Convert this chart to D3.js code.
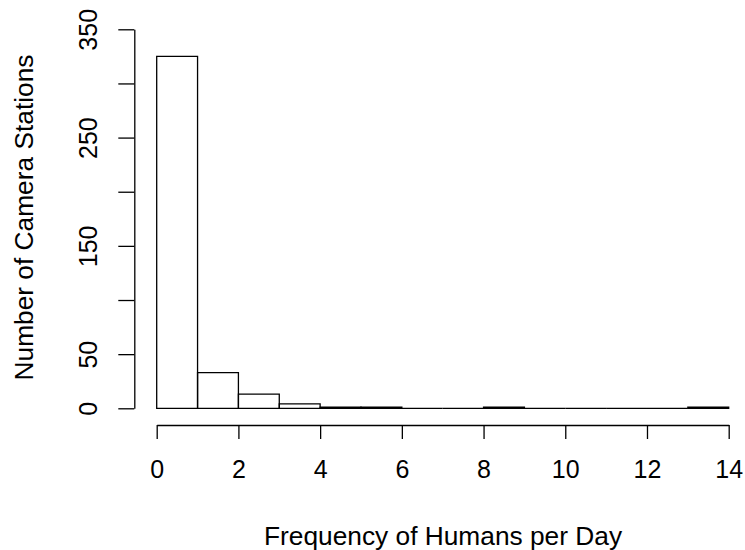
<!DOCTYPE html>
<html>
<head>
<meta charset="utf-8">
<script src="https://cdn.jsdelivr.net/npm/d3@7"></script>
<style>
  html, body { margin: 0; padding: 0; background: #fff; }
  svg text { font-family: "Liberation Sans", Arial, Helvetica, sans-serif; fill: #000; }
</style>
</head>
<body>
<svg id="chart" width="745" height="550"></svg>
<script>
// Histogram bins (lower edge, unit width) and counts
const binStarts = [0, 1, 2, 3, 4, 5, 6, 7, 8, 9, 10, 11, 12, 13];
const counts    = [325, 33, 13, 4, 1, 1, 0, 0, 1, 0, 0, 0, 0, 1];
const xTicks = [0, 2, 4, 6, 8, 10, 12, 14];
const yTicks = [0, 50, 100, 150, 200, 250, 300, 350];
const yTickLabels = ["0", "50", "", "150", "", "250", "", "350"];
const xTitle = "Frequency of Humans per Day";
const yTitle = "Number of Camera Stations";

const svg = d3.select("#chart");
const x = d3.scaleLinear().domain([0, 14]).range([156.7, 728.7]);
const y = d3.scaleLinear().domain([0, 350]).range([408.3, 29.3]);
const tickFont = 25;
const titleFont = 26.3;
const fontFamily = "Liberation Sans, Arial, sans-serif";

// Bars as closed outlines, so empty bins still show along the baseline
svg.append("g")
  .selectAll("path")
  .data(binStarts.map((b, i) => ({ b, c: counts[i] })))
  .join("path")
  .attr("d", d => {
    const x0 = x(d.b), x1 = x(d.b + 1), y0 = y(0), y1 = y(d.c);
    return `M${x0},${y0}L${x0},${y1}L${x1},${y1}L${x1},${y0}Z`;
  })
  .attr("fill", "none")
  .attr("stroke", "#000")
  .attr("stroke-width", 1.3);

// X axis
const xAxis = svg.append("g").attr("transform", "translate(0,425)")
  .call(d3.axisBottom(x).tickValues(xTicks).tickSize(14).tickSizeOuter(0).tickFormat(d3.format("d")));
xAxis.select(".domain").attr("stroke-width", 1.3);
xAxis.selectAll(".tick line").attr("stroke-width", 1.3);
xAxis.selectAll(".tick text")
  .attr("y", 53.3).attr("dy", null)
  .style("font-size", tickFont + "px")
  .style("font-family", fontFamily);

// Y axis
const yAxis = svg.append("g").attr("transform", "translate(134.3,0)")
  .call(d3.axisLeft(y).tickValues(yTicks).tickSize(16).tickSizeOuter(0)
    .tickFormat((d, i) => yTickLabels[i]));
yAxis.select(".domain").attr("stroke-width", 1.3);
yAxis.selectAll(".tick line").attr("stroke-width", 1.3);
yAxis.selectAll(".tick text")
  .attr("x", null).attr("dy", null)
  .attr("text-anchor", "middle")
  .attr("transform", "translate(-37.5,0) rotate(-90)")
  .style("font-size", tickFont + "px")
  .style("font-family", fontFamily);

// Axis titles
svg.append("text")
  .attr("x", 443).attr("y", 545)
  .attr("text-anchor", "middle")
  .style("font-size", titleFont + "px")
  .text(xTitle);

svg.append("text")
  .attr("transform", "translate(33.3,217.5) rotate(-90)")
  .attr("text-anchor", "middle")
  .style("font-size", titleFont + "px")
  .text(yTitle);
</script>
</body>
</html>
